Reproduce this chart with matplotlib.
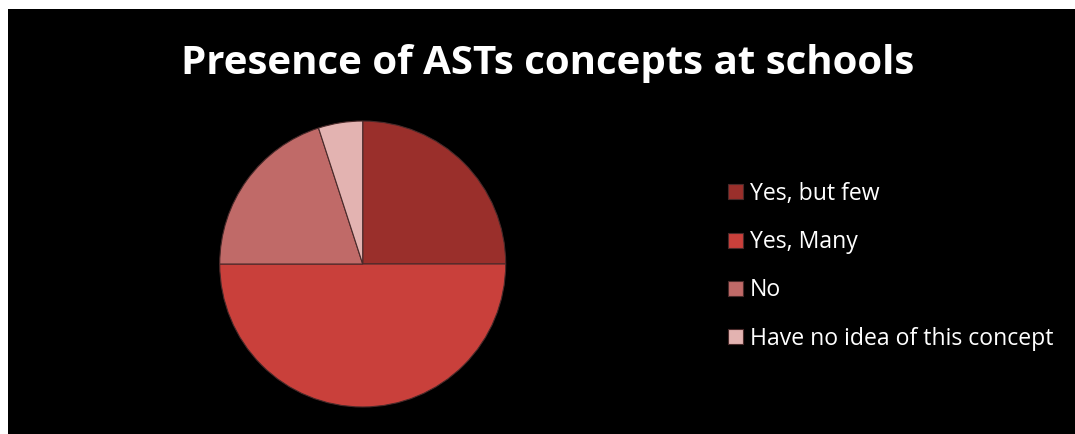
"""
Pie chart: presence of ASTs concepts at schools
"""
import matplotlib.pyplot as plt
from matplotlib import rcParams
from matplotlib.patches import Rectangle

rcParams['font.family'] = ['Open Sans', 'DejaVu Sans']

# data
categories = ['Yes, but few', 'Yes, Many', 'No', 'Have no idea of this concept']
shares = [25, 50, 20, 5]
colors = ['#9a2f2b', '#c9403b', '#c06a68', '#e3b3b1']

fig = plt.figure(figsize=(10.75, 4.34), dpi=100, facecolor='white')

# black chart area, white strip on top and left
fig.patches.append(Rectangle((8 / 1075, 0), 1, 1 - 9 / 434, transform=fig.transFigure,
                             facecolor='black', edgecolor='none', zorder=-5))

fig.text(0.509, 0.853, 'Presence of ASTs concepts at schools', color='white',
         fontsize=29, fontweight='bold', ha='center', va='center')

# pie, centre ~ (363, 264) px, radius ~143 px
ax = fig.add_axes([0.2044, 0.0622, 0.266, 0.659])
ax.set_facecolor('none')
wedges, _ = ax.pie(shares, colors=colors, startangle=90, counterclock=False,
                   radius=1.0, wedgeprops=dict(edgecolor='#4a2a2a', linewidth=0.8))
ax.set_xlim(-1.0, 1.0)
ax.set_ylim(-1.0, 1.0)
ax.set_aspect('equal')
ax.axis('off')

leg = fig.legend(wedges, categories, loc='upper left', bbox_to_anchor=(0.669, 0.602),
                 frameon=False, fontsize=16.6, labelcolor='white',
                 handlelength=0.62, handleheight=0.62, handletextpad=0.3,
                 labelspacing=1.05, borderaxespad=0)

plt.savefig('out.png', dpi=100, facecolor=fig.get_facecolor())
plt.close()
